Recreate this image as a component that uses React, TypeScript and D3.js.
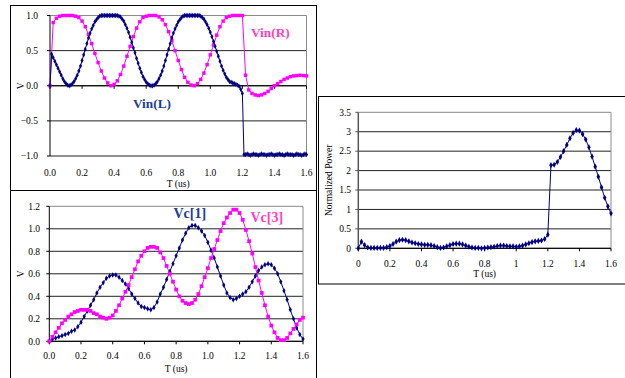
import React, { useRef, useEffect } from "react";
import * as d3 from "d3";

const W = 625;
const H = 378;
const FONT = "'Times New Roman', 'Liberation Serif', serif";
const NAVY = "#000080";
const MAGENTA = "#ff00ff";

// time axis, us
const timeTicks = [0, 0.2, 0.4, 0.6, 0.8, 1.0, 1.2, 1.4, 1.6];

// Vin(L), 0.01 us step
const vinL = [
  0, 0.45, 0.4, 0.35, 0.3, 0.25, 0.2, 0.15, 0.1, 0.06,
  0.03, 0.01, 0.0, 0.01, 0.03, 0.06, 0.1, 0.15, 0.21, 0.28,
  0.36, 0.44, 0.52, 0.6, 0.68, 0.75, 0.81, 0.86, 0.91, 0.94,
  0.97, 0.99, 1.0, 1.0, 1.0, 1.0, 1.0, 1.0, 1.0, 1.0,
  1.0, 1.0, 1.0, 0.99, 0.98, 0.95, 0.92, 0.87, 0.82, 0.76,
  0.69, 0.62, 0.54, 0.47, 0.39, 0.32, 0.25, 0.19, 0.13, 0.09,
  0.05, 0.03, 0.01, 0.0, 0.0, 0.01, 0.03, 0.06, 0.1, 0.15,
  0.21, 0.28, 0.36, 0.44, 0.52, 0.6, 0.68, 0.75, 0.81, 0.86,
  0.91, 0.94, 0.97, 0.99, 1.0, 1.0, 1.0, 1.0, 1.0, 1.0,
  1.0, 1.0, 1.0, 1.0, 0.99, 0.97, 0.95, 0.91, 0.87, 0.82,
  0.76, 0.7, 0.63, 0.56, 0.49, 0.42, 0.35, 0.28, 0.22, 0.17,
  0.12, 0.09, 0.06, 0.05, 0.04, 0.03, 0.02, 0.01, -0.01, -0.05,
  -0.11, -0.98, -0.98, -0.97, -0.98, -0.99, -0.98, -0.97, -0.98, -0.98,
  -0.99, -0.98, -0.97, -0.98, -0.98, -0.99, -0.98, -0.98, -0.97, -0.98,
  -0.99, -0.98, -0.98, -0.97, -0.98, -0.98, -0.99, -0.98, -0.97, -0.98,
  -0.98, -0.98, -0.99, -0.98, -0.97, -0.98, -0.98, -0.99, -0.98, -0.97,
  -0.98,
];

// Vin(R), 0.02 us step
const vinR = [
  0, 0.9, 0.96, 0.99, 1.0, 1.0, 1.0, 1.0, 0.99, 0.97,
  0.92, 0.84, 0.73, 0.6, 0.46, 0.33, 0.21, 0.11, 0.04, 0.0,
  0.02, 0.07, 0.16, 0.28, 0.42, 0.56, 0.7, 0.82, 0.91, 0.97,
  0.99, 1.0, 1.0, 1.0, 0.98, 0.94, 0.87, 0.77, 0.64, 0.5,
  0.36, 0.23, 0.12, 0.05, 0.01, 0.0, 0.03, 0.09, 0.18, 0.3,
  0.44, 0.58, 0.72, 0.84, 0.92, 0.97, 0.99, 1.0, 1.0, 1.0,
  1.0, 0.15, -0.06, -0.11, -0.13, -0.14, -0.13, -0.11, -0.08, -0.04,
  0.0, 0.03, 0.06, 0.09, 0.11, 0.13, 0.14, 0.145, 0.15, 0.145,
  0.14,
];

// Vc[1], 0.02 us step
const vc1 = [
  0.0, 0.02, 0.03, 0.04, 0.05, 0.06, 0.07, 0.09, 0.1, 0.13,
  0.17, 0.22, 0.27, 0.32, 0.37, 0.43, 0.48, 0.52, 0.56, 0.58,
  0.59, 0.59, 0.57, 0.54, 0.51, 0.47, 0.42, 0.38, 0.34, 0.31,
  0.3, 0.29, 0.28, 0.3, 0.35, 0.42, 0.48, 0.55, 0.62, 0.69,
  0.76, 0.83, 0.9, 0.96, 1.01, 1.03, 1.03, 1.01, 0.98, 0.94,
  0.88, 0.81, 0.74, 0.66, 0.58, 0.5, 0.43, 0.39, 0.37, 0.38,
  0.4, 0.42, 0.44, 0.48, 0.53, 0.58, 0.63, 0.66, 0.68, 0.69,
  0.68, 0.65, 0.6, 0.53, 0.45, 0.37, 0.28, 0.2, 0.12, 0.06,
  0.02,
];

// Vc[3], 0.02 us step
const vc3 = [
  0.0, 0.04, 0.08, 0.12, 0.16, 0.19, 0.22, 0.24, 0.26, 0.27,
  0.28, 0.28, 0.28, 0.27, 0.25, 0.24, 0.22, 0.21, 0.2, 0.21,
  0.23, 0.27, 0.32, 0.38, 0.44, 0.5, 0.57, 0.64, 0.71, 0.76,
  0.8, 0.83, 0.84, 0.84, 0.83, 0.79, 0.74, 0.67, 0.6, 0.53,
  0.46, 0.4, 0.36, 0.34, 0.33, 0.34, 0.37, 0.42, 0.49, 0.57,
  0.65, 0.74, 0.82, 0.9, 0.98, 1.05, 1.1, 1.14, 1.17, 1.17,
  1.14, 1.08, 0.99, 0.89, 0.78, 0.66, 0.54, 0.43, 0.32, 0.22,
  0.14, 0.08, 0.03, 0.01, 0.01, 0.03, 0.07, 0.11, 0.15, 0.19,
  0.21,
];

// normalized power, 0.02 us step
const power = [
  0.0, 0.17, 0.08, 0.02, 0.01, 0.01, 0.01, 0.01, 0.01, 0.03,
  0.06, 0.11, 0.17, 0.21, 0.22, 0.21, 0.18, 0.15, 0.13, 0.11,
  0.1, 0.09, 0.09, 0.08, 0.06, 0.03, 0.01, 0.02, 0.05, 0.08,
  0.11, 0.12, 0.12, 0.1, 0.07, 0.04, 0.02, 0.01, 0.01, 0.0,
  0.01, 0.02, 0.03, 0.04, 0.06, 0.07, 0.07, 0.06, 0.05, 0.05,
  0.04, 0.05, 0.07, 0.1, 0.13, 0.16, 0.18, 0.19, 0.2, 0.24,
  0.35, 2.14, 2.15, 2.22, 2.35, 2.5, 2.66, 2.83, 2.97, 3.04,
  3.03, 2.94, 2.8, 2.6, 2.36, 2.1, 1.84, 1.57, 1.3, 1.08,
  0.9,
];

const vinTicks = [-1, -0.5, 0, 0.5, 1];
const vcTicks = [0, 0.2, 0.4, 0.6, 0.8, 1.0, 1.2];
const powerTicks = [0, 0.5, 1, 1.5, 2, 2.5, 3, 3.5];

const panels = [
  {
    frame: [10.5, 5.5, 306, 185],
    plot: { left: 50, right: 306.5, top: 15.5, bottom: 156 },
    yDomain: [-1, 1],
    yTicks: vinTicks,
    yFmt: d3.format(".1f"),
    xFmt: d3.format(".1f"),
    xAxisAt: 0,
    yTitle: "V",
    yTitleX: 21,
    yLabelX: 38,
    tickLabelY: 176,
    titleY: 186.5,
    axisColor: "#000",
    series: [
      { values: vinR, color: MAGENTA, marker: "square", size: 12 },
      { values: vinL, color: NAVY, marker: "diamond", size: 8 },
    ],
    labels: [
      { text: "Vin(R)", x: 251, y: 37, color: "#ff40c0", size: 13.3 },
      { text: "Vin(L)", x: 133, y: 108, color: "#203c94", size: 13.3 },
    ],
  },
  {
    frame: [10.5, 190.5, 306, 200],
    plot: { left: 49.3, right: 303, top: 206.3, bottom: 341.3 },
    yDomain: [0, 1.2],
    yTicks: vcTicks,
    yFmt: d3.format(".1f"),
    xFmt: d3.format(".1f"),
    xAxisAt: 0,
    yTitle: "V",
    yTitleX: 21,
    yLabelX: 40,
    tickLabelY: 359,
    titleY: 372,
    axisColor: "#000",
    series: [
      { values: vc1, color: NAVY, marker: "diamond", size: 9 },
      { values: vc3, color: MAGENTA, marker: "square", size: 14 },
    ],
    labels: [
      { text: "Vc[1]", x: 173.5, y: 218, color: "#203c94", size: 14 },
      { text: "Vc[3]", x: 250.5, y: 222, color: "#ff40c0", size: 14 },
    ],
  },
  {
    frame: [318.5, 96.5, 320, 187.5],
    plot: { left: 358.3, right: 611, top: 112.3, bottom: 248.3 },
    yDomain: [0, 3.5],
    yTicks: powerTicks,
    yFmt: (v: number) => String(v),
    xFmt: (v: number) => String(+v.toFixed(1)),
    xAxisAt: 0,
    yTitle: "Normalized Power",
    yTitleX: 329,
    yLabelX: 351,
    tickLabelY: 267,
    titleY: 277,
    axisColor: "#555",
    series: [{ values: power, color: NAVY, marker: "diamond", size: 11 }],
    labels: [],
  },
];

function drawPanel(root: any, cfg: any) {
  const g = root.append("g");
  const [fx, fy, fw, fh] = cfg.frame;
  g.append("rect")
    .attr("x", fx)
    .attr("y", fy)
    .attr("width", fw)
    .attr("height", fh)
    .attr("fill", "white")
    .attr("stroke", "black")
    .attr("stroke-width", 1);

  const x = d3.scaleLinear().domain([0, 1.6]).range([cfg.plot.left, cfg.plot.right]);
  const y = d3.scaleLinear().domain(cfg.yDomain).range([cfg.plot.bottom, cfg.plot.top]);
  const top = y(cfg.yDomain[1]);
  const bottom = y(cfg.yDomain[0]);

  // gridlines
  g.selectAll(".grid")
    .data(cfg.yTicks.filter((v: number) => v !== cfg.yDomain[1]))
    .enter()
    .append("line")
    .attr("x1", x(0))
    .attr("x2", x(1.6))
    .attr("y1", (d: number) => y(d))
    .attr("y2", (d: number) => y(d))
    .attr("stroke", "#222")
    .attr("stroke-width", 1);

  // plot border (top, right)
  g.append("path")
    .attr("d", `M${x(0)},${top}H${x(1.6)}V${bottom}`)
    .attr("fill", "none")
    .attr("stroke", "#8a8a8a");

  // y axis
  g.append("line")
    .attr("x1", x(0))
    .attr("x2", x(0))
    .attr("y1", top)
    .attr("y2", bottom)
    .attr("stroke", cfg.axisColor)
    .attr("stroke-width", cfg.axisColor === "#000" ? 1 : 1.5);
  g.selectAll(".ytick")
    .data(cfg.yTicks)
    .enter()
    .append("line")
    .attr("x1", x(0) - 3)
    .attr("x2", x(0))
    .attr("y1", (d: number) => y(d))
    .attr("y2", (d: number) => y(d))
    .attr("stroke", cfg.axisColor);
  g.selectAll(".ylab")
    .data(cfg.yTicks)
    .enter()
    .append("text")
    .attr("x", cfg.yLabelX)
    .attr("y", (d: number) => y(d))
    .attr("dy", "0.35em")
    .attr("text-anchor", "end")
    .style("font-family", FONT)
    .style("font-size", "9.5px")
    .text((d: number) => cfg.yFmt(d));

  // x axis at value
  const ax = y(cfg.xAxisAt);
  g.append("line")
    .attr("x1", x(0))
    .attr("x2", x(1.6))
    .attr("y1", ax)
    .attr("y2", ax)
    .attr("stroke", "#000");
  g.selectAll(".xtick")
    .data(timeTicks)
    .enter()
    .append("line")
    .attr("x1", (d: number) => x(d))
    .attr("x2", (d: number) => x(d))
    .attr("y1", ax)
    .attr("y2", ax + 3)
    .attr("stroke", "#000");
  g.selectAll(".xlab")
    .data(timeTicks)
    .enter()
    .append("text")
    .attr("x", (d: number) => x(d))
    .attr("y", cfg.tickLabelY)
    .attr("text-anchor", "middle")
    .style("font-family", FONT)
    .style("font-size", "9.5px")
    .text((d: number) => cfg.xFmt(d));

  g.append("text")
    .attr("x", (x(0) + x(1.6)) / 2)
    .attr("y", cfg.titleY)
    .attr("text-anchor", "middle")
    .style("font-family", FONT)
    .style("font-size", "9.5px")
    .text("T (us)");

  g.append("text")
    .attr("transform", `translate(${cfg.yTitleX},${(top + bottom) / 2}) rotate(-90)`)
    .attr("text-anchor", "middle")
    .attr("dy", "0.35em")
    .style("font-family", FONT)
    .style("font-size", "9.5px")
    .text(cfg.yTitle);

  // series
  cfg.series.forEach((s: any) => {
    const step = 1.6 / (s.values.length - 1);
    const pts = s.values.map((v: number, i: number) => [i * step, v]);
    const line = d3
      .line()
      .x((d: any) => x(d[0]))
      .y((d: any) => y(d[1]));
    g.append("path")
      .attr("d", line(pts))
      .attr("fill", "none")
      .attr("stroke", s.color)
      .attr("stroke-width", 1);
    const sym = d3
      .symbol()
      .type(s.marker === "square" ? d3.symbolSquare : d3.symbolDiamond)
      .size(s.size);
    g.selectAll(null)
      .data(pts)
      .enter()
      .append("path")
      .attr("transform", (d: any) => `translate(${x(d[0])},${y(d[1])})`)
      .attr("d", sym)
      .attr("fill", s.color);
  });

  cfg.labels.forEach((l: any) => {
    g.append("text")
      .attr("x", l.x)
      .attr("y", l.y)
      .style("font-family", FONT)
      .style("font-size", l.size + "px")
      .style("font-weight", "bold")
      .attr("fill", l.color)
      .text(l.text);
  });
}

const App = () => {
  const svgRef = useRef<SVGSVGElement>(null);

  useEffect(() => {
    const svg = d3.select(svgRef.current);
    svg.selectAll("*").remove();
    svg.append("rect").attr("width", W).attr("height", H).attr("fill", "white");
    panels.forEach((p) => drawPanel(svg, p));
    return () => {
      svg.selectAll("*").remove();
    };
  }, []);

  return (
    <svg
      ref={svgRef}
      width={W}
      height={H}
      style={{ position: "absolute", left: 0, top: 0 }}
    />
  );
};

export default App;
